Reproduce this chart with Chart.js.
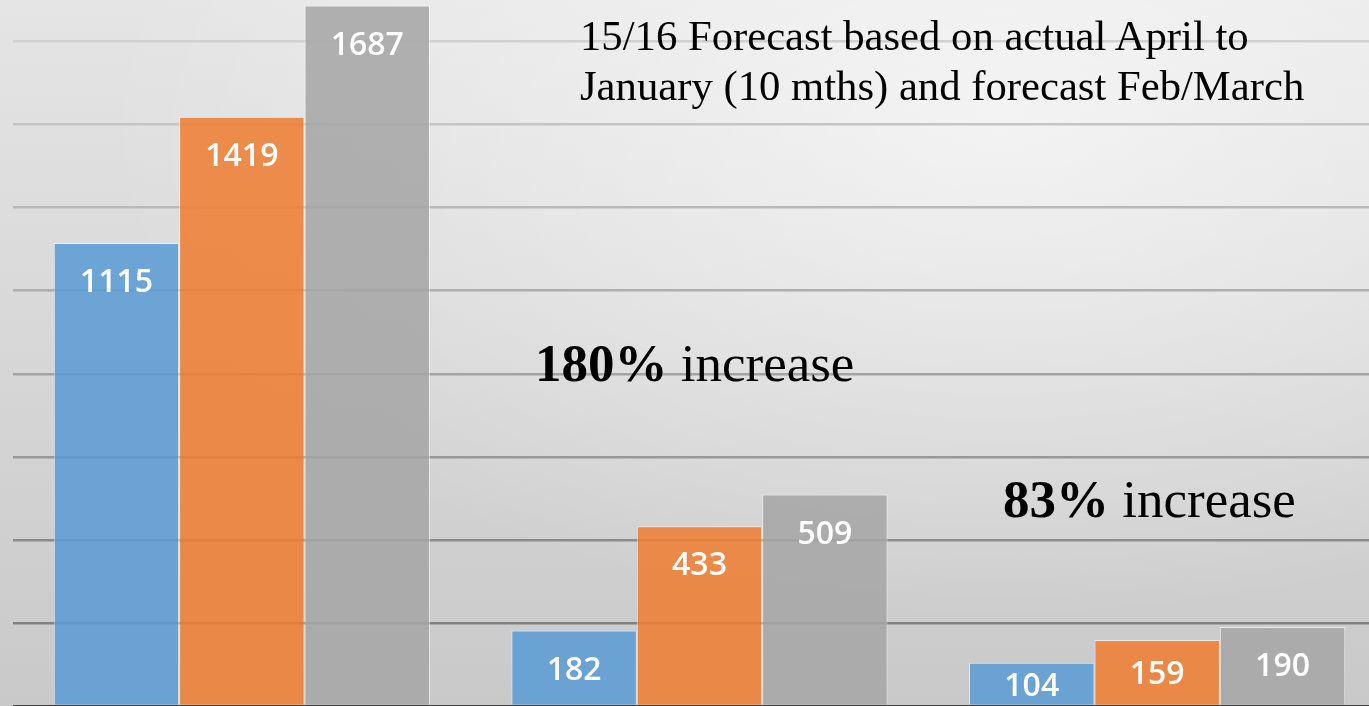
<!DOCTYPE html>
<html>
<head>
<meta charset="utf-8">
<script src="https://cdn.jsdelivr.net/npm/chart.js@4/dist/chart.umd.min.js"></script>
<style>
  html, body { margin: 0; padding: 0; overflow: hidden; width: 1369px; height: 706px; }
  #wrap {
    position: relative; width: 1369px; height: 706px; overflow: hidden;
    background:
      radial-gradient(ellipse 900px 500px at 1000px 120px, rgba(255,255,255,0.62), rgba(255,255,255,0) 100%),
      linear-gradient(to bottom, #e5e5e5, #c9c9c9);
  }
  #box { position: absolute; left: 0; top: 0; width: 1390px; height: 706px; }
  .note { position: absolute; font-family: "Liberation Serif", "Times New Roman", serif; color: #000; white-space: nowrap; }
  #n1 { left: 580px; top: 11px; font-size: 42.7px; line-height: 50px; }
  #n2 { left: 535px; top: 337px; font-size: 53px; line-height: 1; }
  #n3 { left: 1003px; top: 473px; font-size: 53px; line-height: 1; }
</style>
</head>
<body>
<div id="wrap">
  <div id="box"><canvas id="c"></canvas></div>
  <div class="note" id="n1">15/16 Forecast based on actual April to<br>January (10 mths) and forecast Feb/March</div>
  <div class="note" id="n2"><b>180%</b> increase</div>
  <div class="note" id="n3"><b>83%</b> increase</div>
</div>
<script>
// ---- data ----
const categories = ['Group A', 'Group B', 'Group C'];
const seriesNames = ['13/14', '14/15', '15/16 Forecast'];
const series1 = [1115, 182, 104];
const series2 = [1419, 433, 159];
const series3 = [1687, 509, 190];
const yTickStep = 200;
const yMax = 1700;

const barColors = ['rgba(91,155,213,0.86)', 'rgba(237,125,49,0.86)', 'rgba(165,165,165,0.86)'];

const labelPlugin = {
  id: 'barLabels',
  afterDatasetsDraw(chart) {
    const ctx = chart.ctx;
    ctx.save();
    ctx.font = '600 32px "Open Sans", sans-serif';
    ctx.fillStyle = '#ffffff';
    ctx.textAlign = 'center';
    ctx.textBaseline = 'middle';
    chart.data.datasets.forEach((ds, di) => {
      const meta = chart.getDatasetMeta(di);
      meta.data.forEach((el, i) => {
        const p = el.getProps(['x', 'y', 'base'], true);
        const cy = Math.min(p.y + 40, (p.y + p.base + 6) / 2);
        ctx.fillText(String(ds.data[i]), p.x, cy);
      });
    });
    ctx.restore();
  }
};

new Chart(document.getElementById('c'), {
  type: 'bar',
  data: {
    labels: categories,
    datasets: [
      { label: seriesNames[0], data: series1, backgroundColor: barColors[0] },
      { label: seriesNames[1], data: series2, backgroundColor: barColors[1] },
      { label: seriesNames[2], data: series3, backgroundColor: barColors[2] }
    ]
  },
  options: {
    responsive: true,
    maintainAspectRatio: false,
    animation: false,
    layout: { padding: { left: 13, right: 4, top: 0, bottom: 0 } },
    datasets: {
      bar: {
        categoryPercentage: 0.822,
        barPercentage: 1.0,
        borderWidth: 1,
        borderColor: 'rgba(255,255,255,0.55)'
      }
    },
    plugins: {
      legend: { display: false },
      tooltip: { enabled: false },
      title: { display: false }
    },
    scales: {
      x: { display: false },
      y: {
        display: true,
        min: 0,
        max: yMax,
        border: { display: false },
        ticks: { display: false, stepSize: yTickStep, includeBounds: false },
        grid: {
          drawTicks: false,
          lineWidth: 2.5,
          color: (c) => {
            const v = c.tick ? c.tick.value : 0;
            if (v === 0) return '#404040';
            const g = Math.round(118 + 0.056 * v);
            return 'rgb(' + g + ',' + g + ',' + g + ')';
          }
        }
      }
    }
  },
  plugins: [labelPlugin]
});
</script>
</body>
</html>
